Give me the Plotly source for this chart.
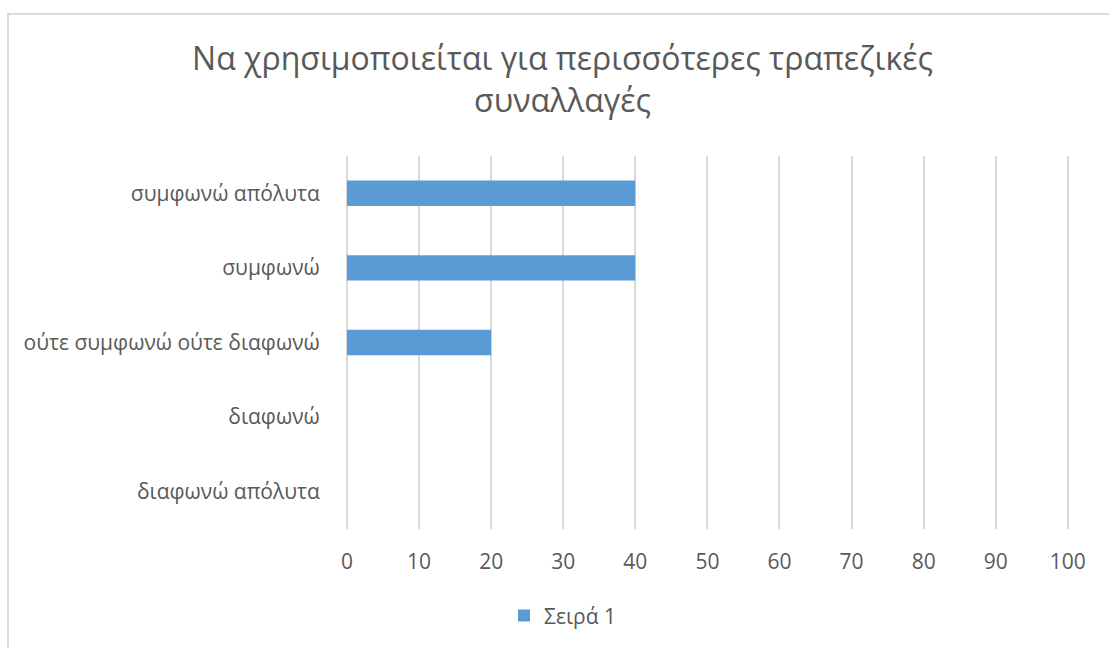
import plotly.graph_objects as go

# Survey responses, listed bottom to top as they appear on the category axis
categories = [
    "διαφωνώ απόλυτα",
    "διαφωνώ",
    "ούτε συμφωνώ ούτε διαφωνώ",
    "συμφωνώ",
    "συμφωνώ απόλυτα",
]
values = [0, 0, 20, 40, 40]
series_name = "Σειρά 1"
x_ticks = [0, 10, 20, 30, 40, 50, 60, 70, 80, 90, 100]

W, H = 1109, 648
X_MAX = 101  # a little headroom so the gridline at 100 is drawn
L, T, B = 347, 156, 114
unit = (1068 - L) / 100  # pixels per unit on the value axis
R = W - L - round(unit * X_MAX)
plot_w = W - L - R
plot_h = H - T - B

TEXT = "#595959"
GRID = "#d9d9d9"
FONT = "Open Sans"
LABEL_SIZE = 21

fig = go.Figure(
    go.Bar(
        x=values,
        y=categories,
        orientation="h",
        name=series_name,
        marker=dict(color="#5b9bd5", line=dict(width=0)),
        showlegend=True,
    )
)


def px_x(p):
    return (p - L) / plot_w


def px_y(p):
    return (H - B - p) / plot_h


# outer chart frame
fig.add_shape(
    type="rect", xref="paper", yref="paper",
    x0=px_x(8), x1=px_x(W + 20), y0=px_y(H + 20), y1=px_y(12),
    line=dict(color="#d9d9d9", width=2), fillcolor="rgba(0,0,0,0)", layer="below",
)

fig.update_layout(
    width=W, height=H,
    margin=dict(l=L, r=R, t=T, b=B),
    paper_bgcolor="white", plot_bgcolor="white",
    font=dict(family=FONT, color=TEXT, size=LABEL_SIZE),
    title=dict(
        text="Να χρησιμοποιείται για περισσότερες τραπεζικές<br>συναλλαγές",
        x=(190 + 935) / 2 / W, xanchor="center",
        y=1 - 70 / H, yanchor="middle",
        font=dict(size=32, color=TEXT, family=FONT),
    ),
    bargap=0.66,
    xaxis=dict(
        range=[0, X_MAX], tickvals=x_ticks, showgrid=True, gridcolor=GRID, gridwidth=2,
        zeroline=True, zerolinecolor=GRID, zerolinewidth=2, showline=False,
        ticks="outside", ticklen=14,
        tickcolor="rgba(0,0,0,0)", tickfont=dict(size=LABEL_SIZE, color=TEXT),
    ),
    yaxis=dict(
        categoryorder="array", categoryarray=categories,
        showgrid=False, zeroline=False, showline=False,
        ticks="outside", ticklen=22, tickcolor="rgba(0,0,0,0)",
        tickfont=dict(size=LABEL_SIZE, color=TEXT),
    ),
    legend=dict(
        orientation="h", x=px_x(504), xanchor="left",
        y=px_y(622), yanchor="middle",
        font=dict(size=LABEL_SIZE, color=TEXT),
    ),
)

fig.write_html("out.html")
